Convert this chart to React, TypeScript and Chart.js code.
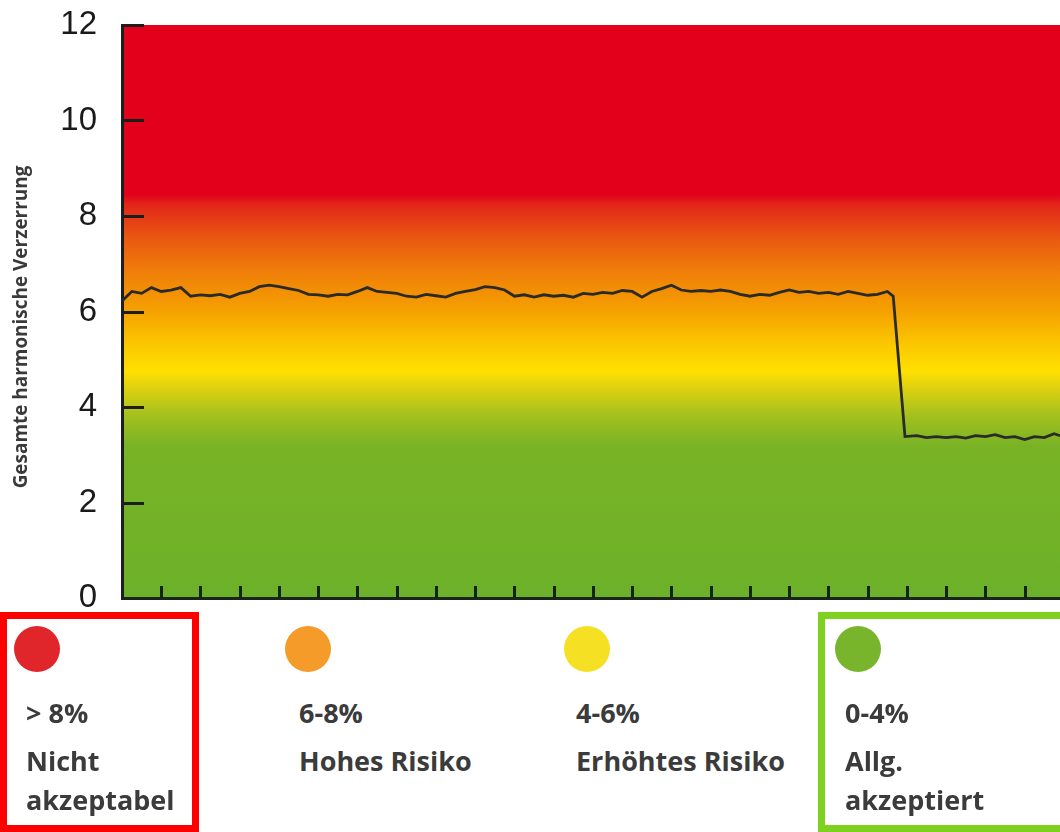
import React, { useEffect, useRef } from "react";
import { Chart, registerables } from "chart.js";

Chart.register(...registerables);

// ---- data ----
const timeSteps = [
  0, 0.25, 0.5, 0.75, 1, 1.25, 1.5, 1.75, 2, 2.25, 2.5, 2.75, 3, 3.25, 3.5, 3.75,
  4, 4.25, 4.5, 4.75, 5, 5.25, 5.5, 5.75, 6, 6.25, 6.5, 6.75, 7, 7.25, 7.5, 7.75,
  8, 8.25, 8.5, 8.75, 9, 9.25, 9.5, 9.75, 10, 10.25, 10.5, 10.75, 11, 11.25, 11.5, 11.75,
  12, 12.25, 12.5, 12.75, 13, 13.25, 13.5, 13.75, 14, 14.25, 14.5, 14.75, 15, 15.25, 15.5, 15.75,
  16, 16.25, 16.5, 16.75, 17, 17.25, 17.5, 17.75, 18, 18.25, 18.5, 18.75, 19, 19.25, 19.5, 19.65,
  19.95, 20.25, 20.5, 20.75, 21, 21.25, 21.5, 21.75, 22, 22.25, 22.5, 22.75, 23, 23.25, 23.5, 23.75, 23.9,
];
const thdValues = [
  6.22, 6.42, 6.38, 6.5, 6.42, 6.45, 6.5, 6.32, 6.35, 6.33, 6.36, 6.3, 6.38, 6.42, 6.52, 6.55,
  6.52, 6.48, 6.44, 6.36, 6.35, 6.32, 6.36, 6.35, 6.42, 6.5, 6.42, 6.4, 6.38, 6.32, 6.3, 6.36,
  6.33, 6.3, 6.38, 6.42, 6.46, 6.52, 6.5, 6.45, 6.32, 6.35, 6.3, 6.35, 6.32, 6.34, 6.3, 6.38,
  6.36, 6.4, 6.38, 6.44, 6.42, 6.3, 6.42, 6.48, 6.55, 6.45, 6.42, 6.44, 6.42, 6.45, 6.42, 6.36,
  6.32, 6.36, 6.34, 6.4, 6.45, 6.4, 6.42, 6.38, 6.4, 6.36, 6.42, 6.38, 6.34, 6.36, 6.42, 6.32,
  3.38, 3.4, 3.36, 3.38, 3.36, 3.38, 3.35, 3.4, 3.38, 3.42, 3.36, 3.38, 3.32, 3.38, 3.36, 3.44, 3.4,
];
const yTickValues = [0, 2, 4, 6, 8, 10, 12];
const xTickValues = [1, 2, 3, 4, 5, 6, 7, 8, 9, 10, 11, 12, 13, 14, 15, 16, 17, 18, 19, 20, 21, 22, 23];
const yAxisTitle = "Gesamte harmonische Verzerrung";

const bandStopValues = [12, 8.45, 8.25, 7.5, 6.8, 6.0, 5.3, 4.75, 4.35, 3.8, 3.2, 0];
const bandStopColors = [
  "#e3001b", "#e3001b", "#e2251a", "#ea5a10", "#f08009", "#f5a100", "#fbc800",
  "#ffe000", "#d9d012", "#a2c01e", "#79b325", "#6cb12a",
];

const legendRanges = ["> 8%", "6-8%", "4-6%", "0-4%"];
const legendLabels = [["Nicht", "akzeptabel"], ["Hohes Risiko"], ["Erhöhtes Risiko"], ["Allg.", "akzeptiert"]];
const legendDotColors = ["#e0262b", "#f49b2a", "#f6e024", "#78b52c"];

export default function App() {
  const canvasRef = useRef<HTMLCanvasElement | null>(null);

  useEffect(() => {
    const canvas = canvasRef.current;
    if (!canvas) return;

    const backgroundPlugin = {
      id: "bandBackground",
      beforeDraw(chart: any) {
        const { ctx, chartArea } = chart;
        const { left, right, top, bottom } = chartArea;
        const y = chart.scales.y;
        const g = ctx.createLinearGradient(0, top, 0, bottom);
        bandStopValues.forEach((v, i) => {
          let off = (y.getPixelForValue(v) - top) / (bottom - top);
          off = Math.max(0, Math.min(1, off));
          g.addColorStop(off, bandStopColors[i]);
        });
        ctx.save();
        ctx.fillStyle = g;
        ctx.fillRect(left, top, right - left, bottom - top);
        ctx.restore();
      },
    };

    const tickMarksPlugin = {
      id: "innerTicks",
      afterDatasetsDraw(chart: any) {
        const { ctx, chartArea } = chart;
        const { left, bottom } = chartArea;
        const y = chart.scales.y;
        const x = chart.scales.x;
        ctx.save();
        ctx.strokeStyle = "#1d1d1d";
        ctx.lineWidth = 3;
        yTickValues.forEach((v) => {
          if (v === 0) return;
          const py = Math.round(y.getPixelForValue(v)) + 0.5;
          ctx.beginPath();
          ctx.moveTo(left, py);
          ctx.lineTo(left + 22, py);
          ctx.stroke();
        });
        ctx.strokeStyle = "#142414";
        xTickValues.forEach((v) => {
          const px = Math.round(x.getPixelForValue(v)) + 0.5;
          ctx.beginPath();
          ctx.moveTo(px, bottom);
          ctx.lineTo(px, bottom - 12);
          ctx.stroke();
        });
        ctx.restore();
      },
    };

    const titlePlugin = {
      id: "yTitle",
      afterDraw(chart: any) {
        const { ctx } = chart;
        ctx.save();
        let size = 18;
        ctx.font = `bold ${size}px "Open Sans"`;
        const w = ctx.measureText(yAxisTitle).width;
        size = (size * 323) / w;
        ctx.font = `bold ${size}px "Open Sans"`;
        ctx.fillStyle = "#3a3a3a";
        ctx.translate(22, 327);
        ctx.rotate(-Math.PI / 2);
        ctx.textAlign = "center";
        ctx.textBaseline = "middle";
        ctx.fillText(yAxisTitle, 0, 0);
        ctx.restore();
      },
    };

    const chart = new Chart(canvas, {
      type: "line",
      data: {
        datasets: [
          {
            data: timeSteps.map((t, i) => ({ x: t, y: thdValues[i] })),
            borderColor: "#2a2a2a",
            borderWidth: 2.8,
            pointRadius: 0,
            tension: 0,
            fill: false,
          },
        ],
      },
      options: {
        responsive: false,
        devicePixelRatio: 1,
        animation: false,
        layout: { padding: { top: 25, bottom: 42, left: 0, right: 0 } },
        plugins: { legend: { display: false }, tooltip: { enabled: false } },
        scales: {
          x: {
            type: "linear",
            min: 0,
            max: 23.9,
            ticks: { display: false },
            grid: { display: false },
            border: { display: true, color: "#1a261a", width: 3 },
            afterFit: (s: any) => {
              s.height = 0;
              s.paddingLeft = 0;
              s.paddingRight = 0;
            },
          },
          y: {
            type: "linear",
            min: 0,
            max: 12,
            ticks: {
              stepSize: 2,
              padding: 17,
              color: "#1a1a1a",
              font: { family: '"Liberation Sans", Arial, sans-serif', size: 33 },
            },
            grid: { display: false },
            border: { display: true, color: "#1e1e1e", width: 3 },
            afterFit: (s: any) => {
              s.width = 122;
              s.paddingTop = 0;
              s.paddingBottom = 0;
            },
          },
        },
      },
      plugins: [backgroundPlugin, tickMarksPlugin, titlePlugin],
    } as any);

    return () => chart.destroy();
  }, []);

  const colX = [26, 299, 576, 845];
  const dotX = [37, 308, 587, 858];
  const textStyle: React.CSSProperties = {
    position: "absolute",
    fontFamily: '"Open Sans", sans-serif',
    fontWeight: 700,
    fontSize: 27,
    lineHeight: "27px",
    color: "#3b3b3b",
    whiteSpace: "nowrap",
  };

  return (
    <div
      style={{
        position: "absolute",
        left: 0,
        top: 0,
        width: 1060,
        height: 832,
        overflow: "hidden",
        background: "#ffffff",
      }}
    >
      <canvas ref={canvasRef} width={1060} height={640} style={{ position: "absolute", left: 0, top: 0 }} />
      <div
        style={{
          position: "absolute",
          left: 0,
          top: 612,
          width: 199,
          height: 220,
          border: "7px solid #ff0000",
          boxSizing: "border-box",
        }}
      />
      <div
        style={{
          position: "absolute",
          left: 818,
          top: 612,
          width: 270,
          height: 220,
          border: "7px solid #7fd11f",
          boxSizing: "border-box",
        }}
      />
      {legendRanges.map((r, i) => (
        <React.Fragment key={r}>
          <div
            style={{
              position: "absolute",
              left: dotX[i] - 23,
              top: 626,
              width: 46,
              height: 46,
              borderRadius: "50%",
              background: legendDotColors[i],
            }}
          />
          <div style={{ ...textStyle, left: colX[i], top: 699 }}>{r}</div>
          {legendLabels[i].map((l, j) => (
            <div key={l} style={{ ...textStyle, left: colX[i], top: j === 0 ? 747 : 786 }}>
              {l}
            </div>
          ))}
        </React.Fragment>
      ))}
    </div>
  );
}
